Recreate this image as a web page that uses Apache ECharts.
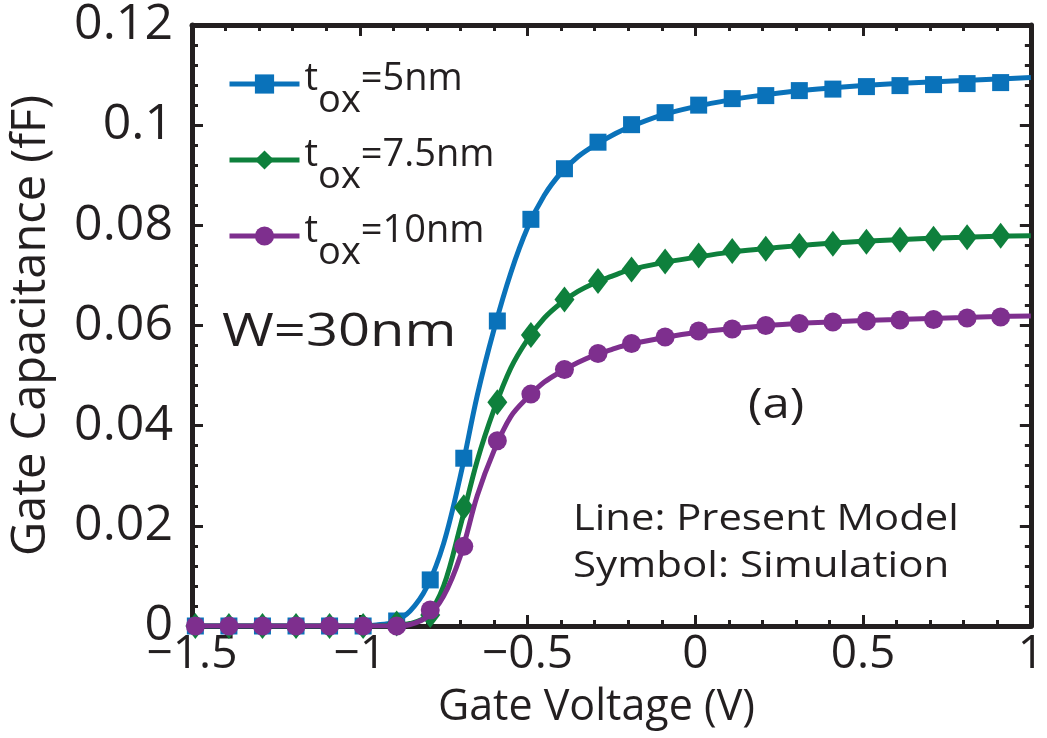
<!DOCTYPE html>
<html>
<head>
<meta charset="utf-8">
<script src="https://cdn.jsdelivr.net/npm/echarts@6/dist/echarts.min.js"></script>
<style>
html,body{margin:0;padding:0;background:#fff;}
#chart{width:1047px;height:738px;}
</style>
</head>
<body>
<div id="chart"></div>
<script>
// ---- data ----
var thicknesses = ['5nm', '7.5nm', '10nm'];
var colors = ['#0a72ba', '#0e803c', '#7e2f8e'];
var symbols = ['rect', 'diamond', 'circle'];
var xTickLabels = ['\u22121.5', '\u22121', '\u22120.5', '0', '0.5', '1'];

// Present model (lines)
var modelV = [-1.5, -1.0, -0.95, -0.9, -0.85, -0.8, -0.75, -0.7, -0.65, -0.6, -0.55, -0.5, -0.45, -0.4, -0.35, -0.3, -0.25, -0.2, -0.1, 0, 0.1, 0.2, 0.3, 0.4, 0.5, 0.6, 0.7, 0.8, 0.9, 1.0];
var model5 = [0, 0, 0.0002, 0.0008, 0.0030, 0.0078, 0.0165, 0.0300, 0.0460, 0.0592, 0.0705, 0.0795, 0.0860, 0.0905, 0.0937, 0.0960, 0.0979, 0.0995, 0.1020, 0.1037, 0.1050, 0.1060, 0.1068, 0.1074, 0.1079, 0.1083, 0.1086, 0.1089, 0.1092, 0.1095];
var model75 = [0, 0, 0, 0.0001, 0.0005, 0.0020, 0.0080, 0.0200, 0.0330, 0.0432, 0.0515, 0.0572, 0.0615, 0.0645, 0.0668, 0.0685, 0.0698, 0.0710, 0.0725, 0.0736, 0.0746, 0.0753, 0.0759, 0.0764, 0.0768, 0.0771, 0.0774, 0.0776, 0.0778, 0.0779];
var model10 = [0, 0, 0, 0, 0.0003, 0.0018, 0.0060, 0.0140, 0.0260, 0.0350, 0.0418, 0.0456, 0.0487, 0.0508, 0.0526, 0.0541, 0.0552, 0.0562, 0.0575, 0.0586, 0.0593, 0.0599, 0.0604, 0.0607, 0.0610, 0.0612, 0.0614, 0.0616, 0.0618, 0.0619];

// Simulation (symbols)
var simV = [-1.49, -1.39, -1.29, -1.19, -1.09, -0.99, -0.89, -0.79, -0.69, -0.59, -0.49, -0.39, -0.29, -0.19, -0.09, 0.01, 0.11, 0.21, 0.31, 0.41, 0.51, 0.61, 0.71, 0.81, 0.91];
var sim5 = [0, 0, 0, 0, 0, 0, 0.0010, 0.0092, 0.0335, 0.0609, 0.0812, 0.0913, 0.0966, 0.1001, 0.1025, 0.1040, 0.1053, 0.1059, 0.1069, 0.1072, 0.1077, 0.1079, 0.1081, 0.1083, 0.1085];
var sim75 = [0, 0, 0, 0, 0, 0, 0.0005, 0.0022, 0.0237, 0.0447, 0.0581, 0.0652, 0.0689, 0.0712, 0.0728, 0.0740, 0.0749, 0.0753, 0.0759, 0.0763, 0.0767, 0.0771, 0.0773, 0.0776, 0.0779];
var sim10 = [0, 0, 0, 0, 0, 0, 0, 0.0032, 0.0159, 0.0370, 0.0463, 0.0512, 0.0544, 0.0564, 0.0577, 0.0589, 0.0593, 0.0600, 0.0604, 0.0607, 0.0609, 0.0611, 0.0612, 0.0615, 0.0617];

// ---- build ----
var FONT = 'Open Sans';
var INK = '#231f20';
function pairs(xs, ys) { return xs.map(function (x, i) { return [x, ys[i]]; }); }
var models = [model5, model75, model10];
var sims = [sim5, sim75, sim10];
var symSizes = [17, [20, 26], 19];

var series = [];
thicknesses.forEach(function (t, i) {
  series.push({
    name: 'tox=' + t, type: 'line', data: pairs(modelV, models[i]),
    smooth: 0.35, showSymbol: false, symbol: symbols[i],
    lineStyle: { color: colors[i], width: 5 }, itemStyle: { color: colors[i] },
    z: 2 + i * 2, silent: true, animation: false
  });
  series.push({
    name: 'sim ' + t, type: 'scatter', data: pairs(simV, sims[i]),
    symbol: symbols[i], symbolSize: symSizes[i],
    itemStyle: { color: colors[i], opacity: 1 }, z: 3 + i * 2, silent: true, animation: false
  });
});

function axisCommon() {
  return {
    axisLine: { show: true, onZero: false, lineStyle: { color: INK, width: 5 } },
    axisTick: { show: true, inside: true, length: 11, lineStyle: { color: INK, width: 3 } },
    minorTick: { show: true, splitNumber: 5, length: 6, lineStyle: { color: INK, width: 3 } },
    splitLine: { show: false }
  };
}

var xBottom = Object.assign(axisCommon(), {
  type: 'value', min: -1.5, max: 1, interval: 0.5, position: 'bottom',
  name: 'Gate Voltage (V)', nameLocation: 'middle', nameGap: 60,
  nameTextStyle: { fontFamily: FONT, fontSize: 43, color: INK, padding: [0, 30, 0, 0] },
  axisLabel: {
    fontFamily: FONT, fontSize: 46, color: INK, margin: 6,
    formatter: function (v) { var idx = Math.round((v + 1.5) / 0.5); return xTickLabels[idx]; }
  }
});
var xTop = Object.assign(axisCommon(), {
  type: 'value', min: -1.5, max: 1, interval: 0.5, position: 'top', axisLabel: { show: false }
});
var yLeft = Object.assign(axisCommon(), {
  type: 'value', min: 0, max: 0.12, interval: 0.02, position: 'left',
  name: 'Gate Capacitance (fF)', nameLocation: 'middle', nameGap: 137,
  nameTextStyle: { fontFamily: FONT, fontSize: 47, color: INK },
  axisLabel: { fontFamily: FONT, fontSize: 50, color: INK, margin: 19 }
});
var yRight = Object.assign(axisCommon(), {
  type: 'value', min: 0, max: 0.12, interval: 0.02, position: 'right', axisLabel: { show: false }
});

var option = {
  backgroundColor: '#fff',
  animation: false,
  grid: { left: 190, right: 7, top: 25, bottom: 112, containLabel: false },
  xAxis: [xBottom, xTop],
  yAxis: [yLeft, yRight],
  legend: {
    data: thicknesses.map(function (t) { return 'tox=' + t; }),
    orient: 'vertical', left: 222, top: 55, itemWidth: 70, itemHeight: 24, itemGap: 16,
    selectedMode: false,
    lineStyle: { width: 5 },
    formatter: function (name) { return '{m|t}{s|ox}{m|=' + name.slice(4) + '}'; },
    textStyle: {
      fontFamily: FONT, fontSize: 38, color: INK,
      rich: {
        m: { fontFamily: FONT, fontSize: 38, color: INK, padding: [0, 0, 10, 0] },
        s: { fontFamily: FONT, fontSize: 38, color: INK, padding: [34, 0, 0, 0] }
      }
    }
  },
  graphic: [
    { type: 'text', x: 222, y: 310, scaleX: 1.22, style: { text: 'W=30nm', fontFamily: FONT, fontSize: 46, fill: INK, verticalAlign: 'top' } },
    { type: 'text', x: 748, y: 385, scaleX: 1.17, style: { text: '(a)', fontFamily: FONT, fontSize: 42, fill: INK, verticalAlign: 'top' } },
    { type: 'text', x: 573, y: 502, scaleX: 1.16, style: { text: 'Line: Present Model', fontFamily: FONT, fontSize: 36, fill: INK, verticalAlign: 'top' } },
    { type: 'text', x: 573, y: 549, scaleX: 1.17, style: { text: 'Symbol: Simulation', fontFamily: FONT, fontSize: 36, fill: INK, verticalAlign: 'top' } }
  ],
  series: series
};

var chart = echarts.init(document.getElementById('chart'), null, { renderer: 'canvas' });
chart.setOption(option);
</script>
</body>
</html>
